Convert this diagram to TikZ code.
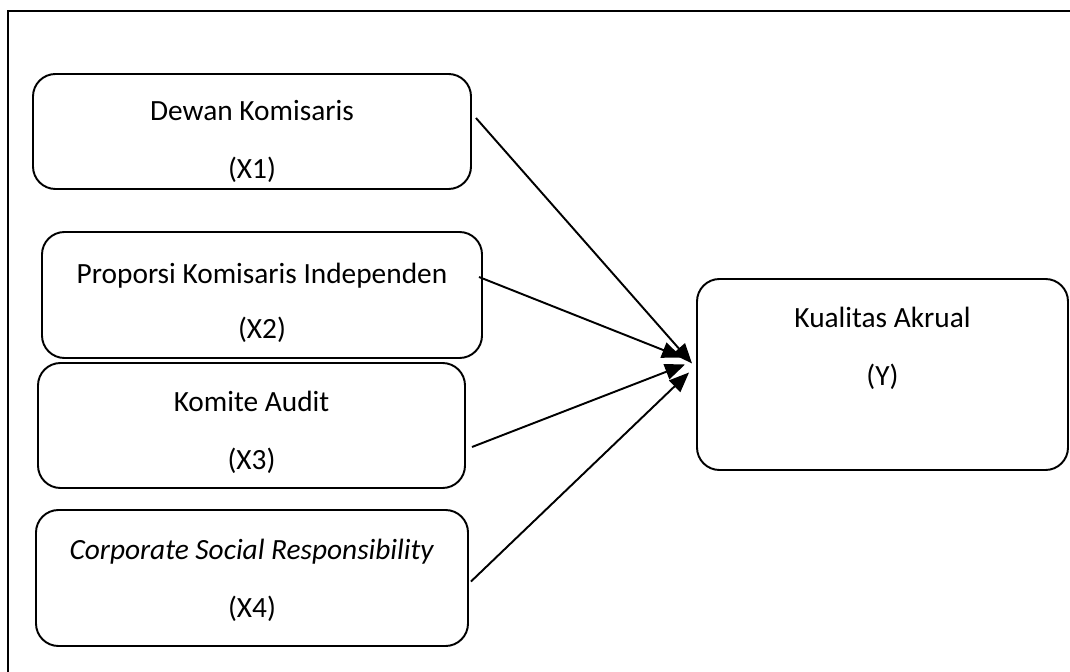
\documentclass[tikz,border=0pt]{standalone}
\usepackage{fontspec}
\setmainfont{Carlito}
\usepackage{tikz}
\usetikzlibrary{arrows.meta}

\begin{document}
\begin{tikzpicture}[
  box/.style={draw, line width=1.1pt, rounded corners=0.45cm,
              align=center, inner sep=0pt,
              font=\fontsize{16.7}{20}\selectfont, text depth=4pt},
  arrow/.style={-{Triangle[length=0.4cm, width=0.32cm]}, line width=1.1pt}
]
  \useasboundingbox (0,0) rectangle (21.4,13.42);
  % frame, cut at the right and bottom
  \draw[line width=1pt] (0.16,-0.1) -- (0.16,13.2) -- (21.5,13.2);

  \node[box, minimum width=8.76cm, minimum height=2.3cm, text height=57pt]
    (dewan) at (5.04,10.79) {Dewan Komisaris\\[13pt](X1)};
  \node[box, minimum width=8.8cm, minimum height=2.52cm, text height=53pt]
    (proporsi) at (5.24,7.52) {Proporsi Komisaris Independen\\[11pt](X2)};
  \node[box, minimum width=8.54cm, minimum height=2.5cm, text height=53.6pt]
    (komite) at (5.03,4.91) {Komite Audit\\[13pt](X3)};
  \node[box, minimum width=8.64cm, minimum height=2.72cm, text height=49.5pt]
    (csr) at (5.04,1.86) {\textit{Corporate Social Responsibility}\\[13pt](X4)};
  \node[box, minimum width=7.42cm, minimum height=3.82cm, text height=17pt]
    (akrual) at (17.65,5.93) {Kualitas Akrual\\[13pt](Y)};

  \draw[arrow] ([shift={(0.08,0.27)}]dewan.east) -- ([shift={(-0.08,0.22)}]akrual.west);
  \draw[arrow] ([shift={(-0.08,0.36)}]proporsi.east) -- ([shift={(-0.28,0.34)}]akrual.west);
  \draw[arrow] ([shift={(0.12,-0.43)}]komite.east) -- ([shift={(-0.22,0.2)}]akrual.west);
  \draw[arrow] ([shift={(0.04,-0.07)}]csr.east) -- ([shift={(-0.14,0.04)}]akrual.west);
\end{tikzpicture}
\end{document}
